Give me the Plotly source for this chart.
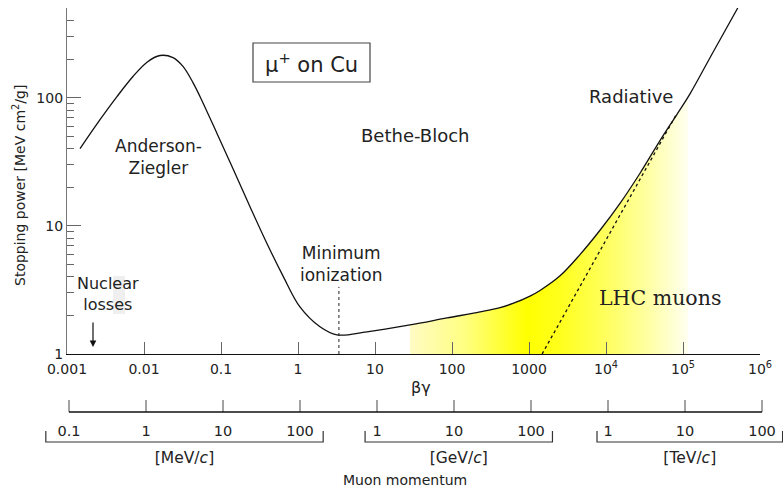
import plotly.graph_objects as go

# ---------------- data ----------------
beta_gamma = [0.001476, 0.002685, 0.004457, 0.00719, 0.01094, 0.01614, 0.02382, 0.03208,
              0.04325, 0.05333, 0.0887, 0.1432, 0.238, 0.395, 0.638, 1.06, 1.93, 3.2,
              7.87, 28.5, 86, 231, 420, 619, 1030, 1390, 2529, 4592, 8356, 15200,
              27660, 50270, 83560, 123300, 245500, 514000]
stopping_power = [40, 67.3, 101.8, 146, 189, 213, 205, 175,
                  131, 102, 52.5, 27.9, 14.1, 7.28, 4.07, 2.33, 1.63, 1.41,
                  1.49, 1.685, 1.91, 2.13, 2.30, 2.48, 2.83, 3.13, 4.07, 5.96, 9.23, 14.96,
                  25.7, 46.2, 74.1, 107, 226, 500]

# LHC muon band (filled region under the curve)
lhc_bg = [28.5, 86, 231, 420, 619, 1030, 1390, 2529, 4592, 8356, 15200, 27660, 50270, 83560, 116000]
lhc_sp = [1.685, 1.91, 2.13, 2.30, 2.48, 2.83, 3.13, 4.07, 5.96, 9.23, 14.96, 25.7, 46.2, 74.1, 99]

# radiative-loss asymptote (dotted)
rad_bg = [1480, 80000]
rad_sp = [1.0, 72]

# minimum ionization marker
min_ion_bg = [3.4, 3.4]
min_ion_sp = [1.0, 3.34]

# axis ticks
bg_ticks = [1e-3, 1e-2, 1e-1, 1, 10, 100, 1000, 1e4, 1e5, 1e6]
bg_ticktext = ["0.001", "0.01", "0.1", "1", "10", "100", "1000",
               "10<sup>4</sup>", "10<sup>5</sup>", "10<sup>6</sup>"]
sp_ticks = [1, 10, 100]
sp_ticktext = ["1", "10", "100"]
sp_minor = [2, 3, 4, 5, 6, 7, 8, 9, 20, 30, 40, 50, 60, 70, 80, 90, 200, 300, 400]

# muon momentum scales; the figure places p ~ 100 MeV x beta*gamma
MEV_PER_BG = 100.0
mev_labels = [0.1, 1, 10, 100]
gev_labels = [1, 10, 100]
tev_labels = [1, 10, 100]
mev_bracket = [0.05, 200]
gev_bracket = [0.7, 190]
tev_bracket = [0.72, 185]

W, H = 783, 490
FONT = "DejaVu Sans"
TXT = "#222222"


def X(px):
    return px / W


def Y(py):
    return 1 - py / H


fig = go.Figure()

# ---- LHC band: baseline + gradient fill ----
fig.add_trace(go.Scatter(x=[lhc_bg[0], lhc_bg[-1]], y=[1, 1], mode="lines",
                         line=dict(width=0, color="rgba(0,0,0,0)"),
                         hoverinfo="skip", showlegend=False, xaxis="x", yaxis="y"))
fig.add_trace(go.Scatter(
    x=lhc_bg, y=lhc_sp, mode="lines", fill="tonexty",
    line=dict(width=0, color="rgba(0,0,0,0)", shape="spline", smoothing=1.0),
    fillgradient=dict(type="horizontal", colorscale=[
        [0.0, "#fffbc4"], [0.2, "#ffff80"], [0.42, "#ffff00"], [0.55, "#ffff20"],
        [0.7, "#ffff5c"], [0.85, "#ffffa0"], [1.0, "#fffff0"]]),
    hoverinfo="skip", showlegend=False, xaxis="x", yaxis="y"))

# ---- radiative asymptote ----
fig.add_trace(go.Scatter(x=rad_bg, y=rad_sp, mode="lines",
                         line=dict(color="#111111", width=1.3, dash="dot"),
                         showlegend=False, xaxis="x", yaxis="y"))
# ---- minimum ionization marker ----
fig.add_trace(go.Scatter(x=min_ion_bg, y=min_ion_sp, mode="lines",
                         line=dict(color="#222222", width=1, dash="dot"),
                         showlegend=False, xaxis="x", yaxis="y"))
# ---- stopping power curve ----
fig.add_trace(go.Scatter(x=beta_gamma, y=stopping_power, mode="lines",
                         line=dict(color="#111111", width=1.3, shape="spline", smoothing=1.0),
                         showlegend=False, xaxis="x", yaxis="y"))

# ---------------- lower scales (subplot x3/y3, y in pixel units) ----------------
line_y, tick_top = 412, 400
sec_x, sec_y = [], []
for t in bg_ticks:
    sec_x += [t, t, None]
    sec_y += [tick_top, line_y, None]
fig.add_trace(go.Scatter(x=sec_x, y=sec_y, mode="lines", line=dict(color="#666666", width=1.2),
                         cliponaxis=False, showlegend=False, xaxis="x3", yaxis="y3"))
fig.add_trace(go.Scatter(x=[bg_ticks[0], bg_ticks[-1]], y=[line_y, line_y], mode="lines",
                         line=dict(color="#111111", width=1.3),
                         cliponaxis=False, showlegend=False, xaxis="x3", yaxis="y3"))

bracket_y, cap_y, label_y, unit_y = 442, 431, 432, 459
scales = [
    (mev_labels, mev_bracket, 1.0, "[MeV/<i>c</i>]"),
    (gev_labels, gev_bracket, 1e3, "[GeV/<i>c</i>]"),
    (tev_labels, tev_bracket, 1e6, "[TeV/<i>c</i>]"),
]
for labels, br, unit, unit_text in scales:
    a, b = br[0] * unit / MEV_PER_BG, br[1] * unit / MEV_PER_BG
    fig.add_trace(go.Scatter(x=[a, a, b, b], y=[cap_y, bracket_y, bracket_y, cap_y], mode="lines",
                             line=dict(color="#333333", width=1.2),
                             cliponaxis=False, showlegend=False, xaxis="x3", yaxis="y3"))
    fig.add_trace(go.Scatter(x=[v * unit / MEV_PER_BG for v in labels], y=[label_y] * len(labels),
                             mode="text", text=[f"{v:g}" for v in labels],
                             textfont=dict(family=FONT, size=14.5, color=TXT),
                             cliponaxis=False, showlegend=False, xaxis="x3", yaxis="y3"))
    fig.add_trace(go.Scatter(x=[(a * b) ** 0.5], y=[unit_y], mode="text", text=[unit_text],
                             textfont=dict(family=FONT, size=15.5, color=TXT),
                             cliponaxis=False, showlegend=False, xaxis="x3", yaxis="y3"))

ann = []


def label(text, px, py, size=16, family=FONT, angle=0):
    ann.append(dict(text=text, x=X(px), y=Y(py), xref="paper", yref="paper",
                    showarrow=False, xanchor="center", yanchor="middle", textangle=angle,
                    font=dict(family=family, size=size, color=TXT)))


label("Stopping power [MeV cm<sup>2</sup>/g]", 19, 186, size=14, angle=-90)
label("βγ", 421, 387, size=16)
label("Muon momentum", 405, 480, size=14)
label("Anderson-<br>Ziegler", 158, 157, size=17)
label("Bethe-Bloch", 415, 135, size=18)
label("Radiative", 631, 96, size=18)
label("Minimum<br>ionization", 341, 264, size=17)
label("Nuclear<br>losses", 108, 294, size=16)
label("μ<sup>+</sup> on Cu", 311, 63, size=21)
label("LHC muons", 660, 298, size=20.5, family="DejaVu Serif")

# nuclear losses arrow
ann.append(dict(text="", x=X(93), y=Y(347), xref="paper", yref="paper",
                ax=0, ay=-26, axref="pixel", ayref="pixel",
                showarrow=True, arrowhead=2, arrowsize=1.1, arrowwidth=1.2, arrowcolor="#111111"))

shapes = [
    dict(type="rect", xref="paper", yref="paper", x0=X(253), x1=X(370), y0=Y(82), y1=Y(43),
         line=dict(color="#444444", width=1.2), fillcolor="rgba(0,0,0,0)"),
    dict(type="rect", xref="paper", yref="paper", x0=X(113), x1=X(125), y0=Y(314), y1=Y(276),
         line=dict(width=0), fillcolor="#efefef", layer="below"),
]

dom_x = [67 / W, 760 / W]
dom_y = [Y(354), Y(8)]
axis_font = dict(family=FONT, size=14, color=TXT)

fig.update_layout(
    width=W, height=H, margin=dict(l=0, r=0, t=0, b=0, autoexpand=False),
    paper_bgcolor="white", plot_bgcolor="rgba(0,0,0,0)", showlegend=False,
    font=dict(family=FONT, color=TXT),
    xaxis=dict(type="log", range=[-3, 6], domain=dom_x, anchor="y", automargin=False,
               showline=True, linecolor="#111111", linewidth=1.3,
               ticks="inside", ticklen=12, tickwidth=1.2, tickcolor="#666666",
               tickvals=bg_ticks, ticktext=bg_ticktext, tickfont=axis_font,
               ticklabelstandoff=2, showgrid=False, zeroline=False),
    xaxis4=dict(type="log", range=[-3, 6], overlaying="x", side="top", anchor="y", automargin=False,
                showline=True, linecolor="#666666", linewidth=1.2,
                ticks="inside", ticklen=12, tickwidth=1.2, tickcolor="#666666",
                tickvals=bg_ticks, showticklabels=False, showgrid=False, zeroline=False),
    yaxis=dict(type="log", range=[0, 2.699], domain=dom_y, anchor="x", automargin=False,
               showline=True, linecolor="#777777", linewidth=1.2,
               ticks="inside", ticklen=14, tickwidth=1.2, tickcolor="#666666",
               tickvals=sp_ticks, ticktext=sp_ticktext, tickfont=axis_font,
               minor=dict(ticks="inside", ticklen=7, tickwidth=1.2, tickcolor="#666666",
                          tickvals=sp_minor, showgrid=False),
               showgrid=False, zeroline=False),
    yaxis2=dict(type="log", range=[0, 2.699], overlaying="y", side="right", anchor="x", automargin=False,
                showline=True, linecolor="#111111", linewidth=1.3,
                ticks="inside", ticklen=14, tickwidth=1.2, tickcolor="#666666",
                tickvals=sp_ticks, showticklabels=False,
                minor=dict(ticks="inside", ticklen=7, tickwidth=1.2, tickcolor="#666666",
                           tickvals=sp_minor, showgrid=False),
                showgrid=False, zeroline=False),
    xaxis3=dict(type="log", range=[-3 - 69 / 77, -3 + (W - 69) / 77], domain=[0, 1],
                anchor="y3", visible=False, automargin=False),
    yaxis3=dict(range=[H, 356], domain=[0, Y(356)], anchor="x3", visible=False, automargin=False),
    annotations=ann, shapes=shapes,
)

fig.write_html("out.html")
